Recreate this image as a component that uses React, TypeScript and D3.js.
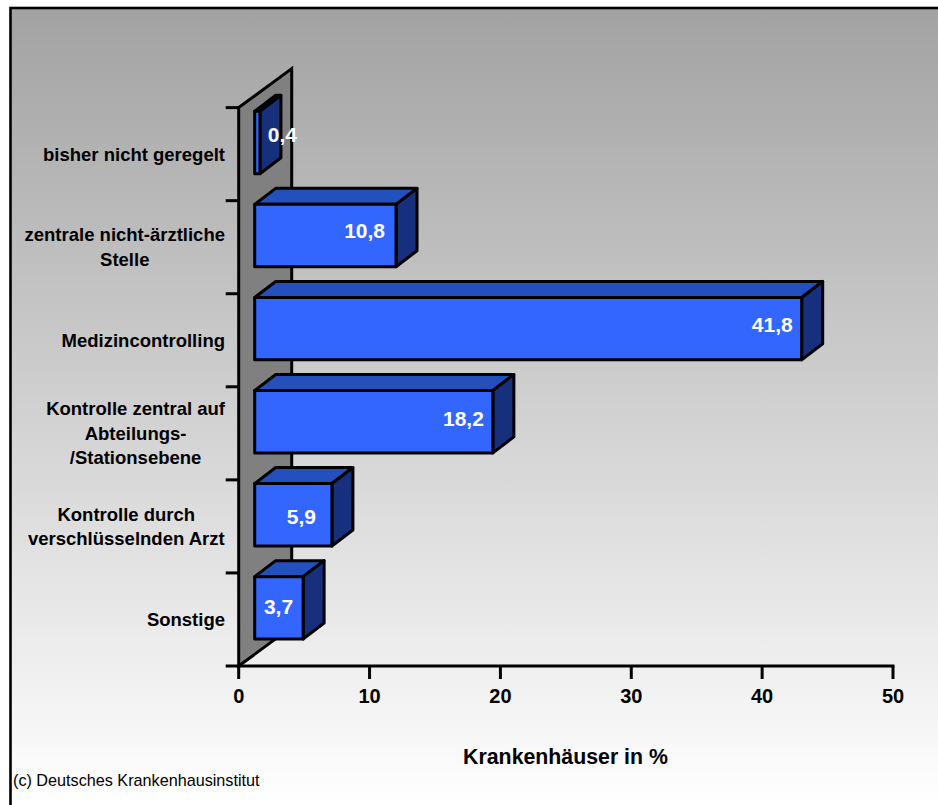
import React from "react";
import * as d3 from "d3";

const categories = ["Sonstige", "Kontrolle durch verschlüsselnden Arzt", "Kontrolle zentral auf Abteilungs- /Stationsebene", "Medizincontrolling", "zentrale nicht-ärztliche Stelle", "bisher nicht geregelt"];
const categoryLines = [["Sonstige"], ["Kontrolle durch", "verschlüsselnden Arzt"], ["Kontrolle zentral auf", "Abteilungs-", "/Stationsebene"], ["Medizincontrolling"], ["zentrale nicht-ärztliche", "Stelle"], ["bisher nicht geregelt"]];
const values = [3.7, 5.9, 18.2, 41.8, 10.8, 0.4];
const valueLabels = ["3,7", "5,9", "18,2", "41,8", "10,8", "0,4"];
const xTicks = [0, 10, 20, 30, 40, 50];

const FONT = "Liberation Sans, Arial, sans-serif";
const CAT_SIZE = 18.5;
const depthX = 53, depthY = 39, barOff = 16, barDx = 21, barDy = 16, SW = 3;
const labelShiftX = [-10, -16, -9, -9, -11, 37];
const labelShiftY = [6, 9, 4, 3.5, 2.5, -1];

function textWidth(s: string, size: number) {
  const ctx = document.createElement("canvas").getContext("2d")!;
  ctx.font = `700 ${size}px ${FONT}`;
  return ctx.measureText(s).width;
}

export default function App() {
  const x = d3.scaleLinear().domain([0, 50]).range([238.7, 893]);
  const yBase = 666, yTop = 107.6;
  const y = d3.scaleBand<string>().domain(categories).range([yBase, yTop]);
  const band = y.bandwidth();
  const line = d3.line();
  const bandEdges = categories.map((c) => y(c)!);
  return (
    <svg width={938} height={805} style={{ position: "absolute", left: 0, top: 0, display: "block" }} fontFamily={FONT}>
      <defs>
        <linearGradient id="bg" gradientUnits="userSpaceOnUse" x1="0" y1="8" x2="0" y2="805">
          <stop offset="0" stopColor="#a2a2a2" />
          <stop offset="1" stopColor="#ffffff" />
        </linearGradient>
      </defs>
      <rect x={10.5} y={8} width={938} height={805} fill="url(#bg)" stroke="#000" strokeWidth={2.6} />
      <path
        d={line([[x(0), yBase], [x(0), yTop], [x(0) + depthX, yTop - depthY], [x(0) + depthX, yBase - depthY]])! + "Z"}
        fill="#808080" stroke="#000" strokeWidth={SW} strokeLinejoin="miter"
      />
      {bandEdges.map((e, i) => (
        <line key={i} x1={x(0) - 13} x2={x(0)} y1={e} y2={e} stroke="#000" strokeWidth={SW} />
      ))}
      <line x1={x(0) - 13} x2={x(50) + 1.5} y1={yBase} y2={yBase} stroke="#000" strokeWidth={SW} />
      {xTicks.map((t) => (
        <g key={t}>
          <line x1={x(t)} x2={x(t)} y1={yBase} y2={yBase + 13} stroke="#000" strokeWidth={SW} />
          <text x={x(t)} y={703} textAnchor="middle" fontSize={20} fontWeight={700} fill="#000">{t}</text>
        </g>
      ))}
      {categories.map((c, i) => {
        const x0 = x(0) + barOff;
        const x1 = x0 + (x(values[i]) - x(0));
        const top = y(c)! + 3.7;
        const bot = top + 62.4;
        const stroke = { stroke: "#000", strokeWidth: SW, strokeLinejoin: "round" as const };
        return (
          <g key={c}>
            <path d={line([[x0, top], [x0 + barDx, top - barDy], [x1 + barDx, top - barDy], [x1, top]])! + "Z"} fill="#2450be" {...stroke} />
            <path d={line([[x1, top], [x1 + barDx, top - barDy], [x1 + barDx, bot - barDy], [x1, bot]])! + "Z"} fill="#17307e" {...stroke} />
            <rect x={x0} y={top} width={x1 - x0} height={bot - top} fill="#3366ff" {...stroke} />
            <text x={x1 + labelShiftX[i]} y={(top + bot) / 2 + labelShiftY[i]} textAnchor="end" fontSize={21} fontWeight={700} fill="#fff">{valueLabels[i]}</text>
          </g>
        );
      })}
      {categories.map((c, i) => {
        const lines = categoryLines[i];
        const cy = y(c)! + band / 2;
        const blockW = Math.max(...lines.map((l) => textWidth(l, CAT_SIZE)));
        return (
          <text key={c} textAnchor="middle" fontSize={CAT_SIZE} fontWeight={700} fill="#000">
            {lines.map((l, j) => (
              <tspan key={j} x={225 - blockW / 2} y={cy - ((lines.length - 1) * 24.5) / 2 + j * 24.5 + 6.5}>{l}</tspan>
            ))}
          </text>
        );
      })}
      <text x={565.5} y={764} textAnchor="middle" fontSize={21.3} fontWeight={700} fill="#000">Krankenhäuser in %</text>
      <text x={13} y={786} fontSize={16.2} fill="#000">(c) Deutsches Krankenhausinstitut</text>
    </svg>
  );
}
